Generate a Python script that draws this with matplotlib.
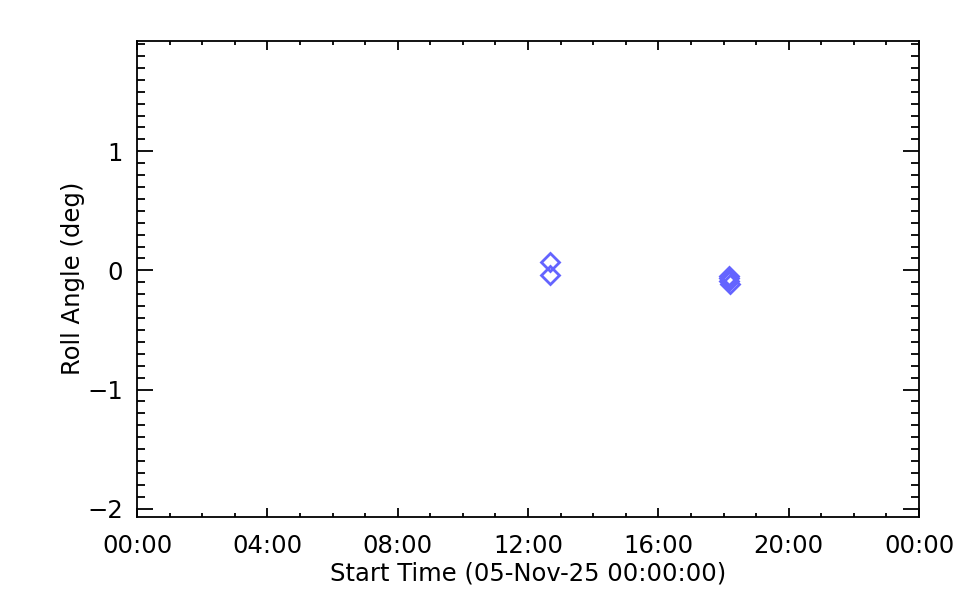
import matplotlib
matplotlib.use("Agg")
import matplotlib.pyplot as plt
import matplotlib.dates as mdates
from matplotlib.ticker import MultipleLocator
from datetime import datetime, timedelta

day_start = datetime(2025, 11, 5)
obs_times = ["12:40", "12:40", "18:10", "18:11", "18:11", "18:12"]
roll_deg = [0.07, -0.04, -0.045, -0.065, -0.085, -0.11]

times = [datetime.strptime("2025-11-05 " + t, "%Y-%m-%d %H:%M") for t in obs_times]

plt.rcParams['font.family'] = ['DejaVu Sans']
fig = plt.figure(figsize=(9.6, 6.0), dpi=100)
ax = fig.add_axes([137/960, 1-517/600, (919-137)/960, (517-40.5)/600])

ax.plot(times, roll_deg, linestyle='none', marker='D', markersize=9.5,
        markerfacecolor='none', markeredgecolor='#6464ff', markeredgewidth=2.0)

ax.set_xlim(day_start, day_start + timedelta(days=1))
ax.set_ylim(-2.07, 1.93)

ax.xaxis.set_major_locator(mdates.HourLocator(byhour=range(0, 24, 4)))
ax.xaxis.set_minor_locator(mdates.HourLocator())
ax.xaxis.set_major_formatter(mdates.DateFormatter('%H:%M'))
ax.yaxis.set_major_locator(MultipleLocator(1))
ax.yaxis.set_minor_locator(MultipleLocator(0.1))

for s in ax.spines.values():
    s.set_linewidth(1.3)

fs = 17.5
ax.tick_params(axis='x', which='major', direction='in', length=6.5, width=1.3,
               top=True, bottom=True, pad=12, labelsize=fs)
ax.tick_params(axis='x', which='minor', direction='in', length=3, width=1.3,
               top=True, bottom=True)
ax.tick_params(axis='y', which='major', direction='in', length=11.5, width=1.3,
               left=True, right=True, pad=10, labelsize=fs)
ax.tick_params(axis='y', which='minor', direction='in', length=5.8, width=1.3,
               left=True, right=True)

ax.set_xlabel('Start Time (05-Nov-25 00:00:00)', fontsize=fs, labelpad=3)
ax.set_ylabel('Roll Angle (deg)', fontsize=fs, labelpad=2)

fig.savefig('out.png', dpi=100)
